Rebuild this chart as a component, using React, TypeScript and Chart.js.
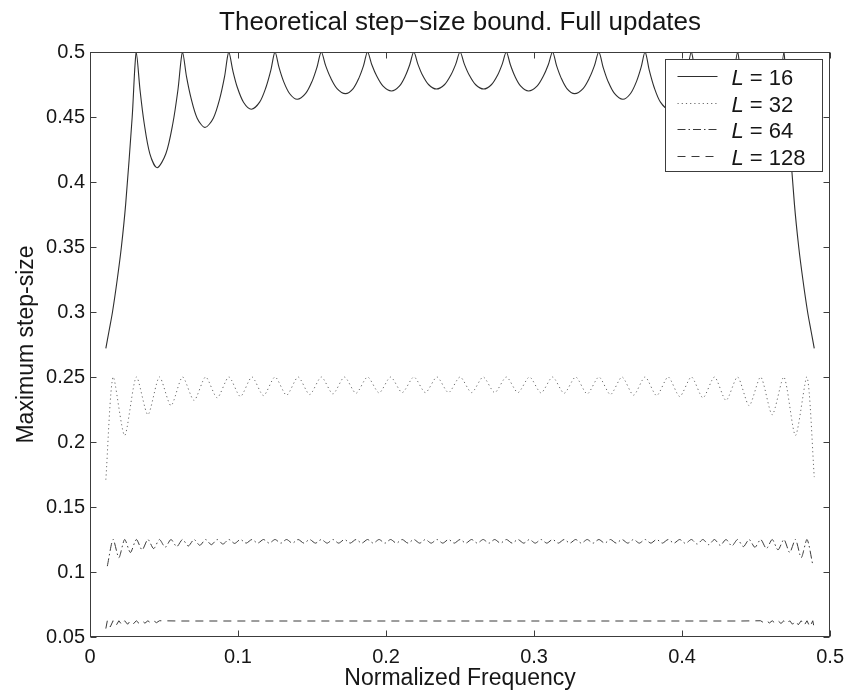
import React, { useEffect, useRef } from 'react';
import { Chart, registerables } from 'chart.js';

Chart.register(...registerables);

const FONT = '"Liberation Sans", Arial, Helvetica, sans-serif';
const INK = '#161616';

const TITLE = 'Theoretical step\u2212size bound. Full updates';
const X_LABEL = 'Normalized Frequency';
const Y_LABEL = 'Maximum step-size';

const X_TICKS = [0, 0.1, 0.2, 0.3, 0.4, 0.5];
const X_TICK_LABELS = ['0', '0.1', '0.2', '0.3', '0.4', '0.5'];
const Y_TICKS = [0.05, 0.1, 0.15, 0.2, 0.25, 0.3, 0.35, 0.4, 0.45, 0.5];
const Y_TICK_LABELS = ['0.05', '0.1', '0.15', '0.2', '0.25', '0.3', '0.35', '0.4', '0.45', '0.5'];

const SERIES_LABELS = ['L = 16', 'L = 32', 'L = 64', 'L = 128'];

// L = 16
const L16_FREQ = [
  0.0107, 0.0128, 0.0152, 0.0184, 0.0212, 0.0241, 0.0285, 0.03125,
  0.0338, 0.0366, 0.0404, 0.0453, 0.0513, 0.0560, 0.0594, 0.0625,
  0.0652, 0.0683, 0.0724, 0.0777, 0.0833, 0.0877, 0.0909, 0.09375,
  0.0965, 0.0995, 0.1037, 0.1090, 0.1146, 0.1189, 0.1221, 0.1250,
  0.1277, 0.1307, 0.1348, 0.1400, 0.1457, 0.1501, 0.1533, 0.15625,
  0.1592, 0.1625, 0.1669, 0.1726, 0.1778, 0.1818, 0.1848, 0.1875,
  0.1904, 0.1937, 0.1980, 0.2037, 0.2090, 0.2130, 0.2160, 0.21875,
  0.2215, 0.2245, 0.2287, 0.2340, 0.2396, 0.2439, 0.2471, 0.2500,
  0.2529, 0.2561, 0.2604, 0.2660, 0.2713, 0.2755, 0.2785, 0.28125,
  0.2840, 0.2870, 0.2910, 0.2963, 0.3020, 0.3063, 0.3096, 0.3125,
  0.3152, 0.3182, 0.3222, 0.3274, 0.3331, 0.3375, 0.3408, 0.34375,
  0.3467, 0.3499, 0.3543, 0.3600, 0.3652, 0.3693, 0.3723, 0.3750,
  0.3779, 0.3811, 0.3854, 0.3910, 0.3963, 0.4005, 0.4035, 0.40625,
  0.4091, 0.4123, 0.4167, 0.4223, 0.4276, 0.4317, 0.4348, 0.4375,
  0.4406, 0.4440, 0.4487, 0.4547, 0.4596, 0.4634, 0.4662, 0.46875,
  0.4715, 0.4759, 0.4788, 0.4816, 0.4848, 0.4872, 0.4893,
];
const L16_STEP = [
  0.272, 0.285, 0.300, 0.325, 0.350, 0.383, 0.450, 0.500,
  0.4708, 0.4452, 0.4219, 0.4110, 0.4219, 0.4452, 0.4708, 0.500,
  0.4810, 0.4643, 0.4491, 0.4420, 0.4491, 0.4643, 0.4810, 0.500,
  0.4856, 0.4729, 0.4614, 0.4560, 0.4614, 0.4729, 0.4856, 0.500,
  0.4881, 0.4776, 0.4681, 0.4636, 0.4681, 0.4776, 0.4881, 0.500,
  0.4895, 0.4803, 0.4719, 0.4680, 0.4719, 0.4803, 0.4895, 0.500,
  0.4902, 0.4815, 0.4737, 0.4700, 0.4737, 0.4815, 0.4902, 0.500,
  0.4907, 0.4825, 0.4750, 0.4715, 0.4750, 0.4825, 0.4907, 0.500,
  0.4907, 0.4825, 0.4750, 0.4715, 0.4750, 0.4825, 0.4907, 0.500,
  0.4902, 0.4815, 0.4737, 0.4700, 0.4737, 0.4815, 0.4902, 0.500,
  0.4895, 0.4803, 0.4719, 0.4680, 0.4719, 0.4803, 0.4895, 0.500,
  0.4881, 0.4776, 0.4681, 0.4636, 0.4681, 0.4776, 0.4881, 0.500,
  0.4856, 0.4729, 0.4614, 0.4560, 0.4614, 0.4729, 0.4856, 0.500,
  0.4810, 0.4643, 0.4491, 0.4420, 0.4491, 0.4643, 0.4810, 0.500,
  0.4708, 0.4452, 0.4219, 0.4110, 0.4219, 0.4452, 0.4708, 0.500,
  0.450, 0.383, 0.350, 0.325, 0.300, 0.285, 0.272,
];

// L = 32
const L32_FREQ = [
  0.0107,
  0.0156, 0.0234, 0.0313, 0.0391, 0.0469, 0.0547, 0.0625, 0.0703,
  0.0781, 0.0859, 0.0938, 0.1016, 0.1094, 0.1172, 0.1250, 0.1328,
  0.1406, 0.1484, 0.1563, 0.1641, 0.1719, 0.1797, 0.1875, 0.1953,
  0.2031, 0.2109, 0.2188, 0.2266, 0.2344, 0.2422, 0.2500, 0.2578,
  0.2656, 0.2734, 0.2813, 0.2891, 0.2969, 0.3047, 0.3125, 0.3203,
  0.3281, 0.3359, 0.3438, 0.3516, 0.3594, 0.3672, 0.3750, 0.3828,
  0.3906, 0.3984, 0.4063, 0.4141, 0.4219, 0.4297, 0.4375, 0.4453,
  0.4531, 0.4609, 0.4688, 0.4766, 0.4844,
  0.4893,
];
const L32_STEP = [
  0.171,
  0.250, 0.205, 0.250, 0.221, 0.250, 0.228, 0.250, 0.232,
  0.250, 0.234, 0.250, 0.235, 0.250, 0.2357, 0.250, 0.236,
  0.250, 0.2365, 0.250, 0.237, 0.250, 0.2375, 0.250, 0.2378,
  0.250, 0.238, 0.250, 0.238, 0.250, 0.238, 0.250, 0.238,
  0.250, 0.238, 0.250, 0.238, 0.250, 0.2378, 0.250, 0.2375,
  0.250, 0.237, 0.250, 0.2365, 0.250, 0.236, 0.250, 0.2357,
  0.250, 0.235, 0.250, 0.234, 0.250, 0.232, 0.250, 0.228,
  0.250, 0.221, 0.250, 0.205, 0.250,
  0.173,
];

// L = 64
const L64_FREQ = [
  0.0117,
  0.0156, 0.0195, 0.0234, 0.0273, 0.0313, 0.0352, 0.0391, 0.0430,
  0.0469, 0.0508, 0.0547, 0.0586, 0.0625, 0.0664, 0.0703, 0.0742,
  0.0781, 0.0820, 0.0859, 0.0898, 0.0938, 0.0977, 0.1016, 0.1055,
  0.1094, 0.1133, 0.1172, 0.1211, 0.1250, 0.1289, 0.1328, 0.1367,
  0.1406, 0.1445, 0.1484, 0.1523, 0.1563, 0.1602, 0.1641, 0.1680,
  0.1719, 0.1758, 0.1797, 0.1836, 0.1875, 0.1914, 0.1953, 0.1992,
  0.2031, 0.2070, 0.2109, 0.2148, 0.2188, 0.2227, 0.2266, 0.2305,
  0.2344, 0.2383, 0.2422, 0.2461, 0.2500, 0.2539, 0.2578, 0.2617,
  0.2656, 0.2695, 0.2734, 0.2773, 0.2813, 0.2852, 0.2891, 0.2930,
  0.2969, 0.3008, 0.3047, 0.3086, 0.3125, 0.3164, 0.3203, 0.3242,
  0.3281, 0.3320, 0.3359, 0.3398, 0.3438, 0.3477, 0.3516, 0.3555,
  0.3594, 0.3633, 0.3672, 0.3711, 0.3750, 0.3789, 0.3828, 0.3867,
  0.3906, 0.3945, 0.3984, 0.4023, 0.4063, 0.4102, 0.4141, 0.4180,
  0.4219, 0.4258, 0.4297, 0.4336, 0.4375, 0.4414, 0.4453, 0.4492,
  0.4531, 0.4570, 0.4609, 0.4648, 0.4688, 0.4727, 0.4766, 0.4805,
  0.4844,
  0.4883,
];
const L64_STEP = [
  0.1045,
  0.125, 0.111, 0.125, 0.115, 0.125, 0.117, 0.125, 0.118,
  0.125, 0.119, 0.125, 0.1195, 0.125, 0.120, 0.125, 0.1205,
  0.125, 0.121, 0.125, 0.1215, 0.125, 0.122, 0.125, 0.1222,
  0.125, 0.1222, 0.125, 0.1222, 0.125, 0.1222, 0.125, 0.1222,
  0.125, 0.1222, 0.125, 0.1222, 0.125, 0.1222, 0.125, 0.1222,
  0.125, 0.1222, 0.125, 0.1222, 0.125, 0.1222, 0.125, 0.1222,
  0.125, 0.1222, 0.125, 0.1222, 0.125, 0.1222, 0.125, 0.1222,
  0.125, 0.1222, 0.125, 0.1222, 0.125, 0.1222, 0.125, 0.1222,
  0.125, 0.1222, 0.125, 0.1222, 0.125, 0.1222, 0.125, 0.1222,
  0.125, 0.1222, 0.125, 0.1222, 0.125, 0.1222, 0.125, 0.1222,
  0.125, 0.1222, 0.125, 0.1222, 0.125, 0.1222, 0.125, 0.1222,
  0.125, 0.1222, 0.125, 0.1222, 0.125, 0.1222, 0.125, 0.1222,
  0.125, 0.1222, 0.125, 0.122, 0.125, 0.1215, 0.125, 0.121,
  0.125, 0.1205, 0.125, 0.120, 0.125, 0.1195, 0.125, 0.119,
  0.125, 0.118, 0.125, 0.117, 0.125, 0.115, 0.125, 0.111,
  0.125,
  0.1055,
];

// L = 128
const L128_FREQ = [
  0.0107, 0.0117, 0.0137, 0.0156, 0.0176, 0.0195, 0.0215, 0.0234,
  0.0254, 0.0273, 0.0293, 0.0313, 0.0332, 0.0352, 0.0371, 0.0391,
  0.0410, 0.0430, 0.0449, 0.0469,
  0.0600, 0.1000, 0.1500, 0.2000, 0.2500, 0.3000, 0.3500, 0.4000, 0.4400,
  0.4531, 0.4551, 0.4570, 0.4590, 0.4609, 0.4629, 0.4648, 0.4668,
  0.4688, 0.4707, 0.4727, 0.4746, 0.4766, 0.4785, 0.4805, 0.4824,
  0.4844, 0.4863, 0.4883, 0.4893,
];
const L128_STEP = [
  0.0565, 0.0625, 0.0578, 0.0625, 0.0588, 0.0625, 0.0594, 0.0625,
  0.0598, 0.0625, 0.0601, 0.0625, 0.0604, 0.0625, 0.0606, 0.0625,
  0.0608, 0.0625, 0.0610, 0.0625,
  0.0623, 0.0623, 0.0623, 0.0623, 0.0623, 0.0623, 0.0623, 0.0623, 0.0623,
  0.0625, 0.0610, 0.0625, 0.0608, 0.0625, 0.0606, 0.0625, 0.0604,
  0.0625, 0.0601, 0.0625, 0.0598, 0.0625, 0.0594, 0.0625, 0.0588,
  0.0625, 0.0578, 0.0625, 0.0565,
];

const pairs = (xs: number[], ys: number[]) => xs.map((x, i) => ({ x, y: ys[i] }));

const frameLegendPlugin = {
  id: 'frameLegend',
  afterDatasetsDraw(chart: any) {
    const { ctx, chartArea, scales } = chart;
    const L = Math.round(chartArea.left) + 0.5;
    const R = Math.round(chartArea.right) - 0.5;
    const T = Math.round(chartArea.top) + 0.5;
    const B = Math.round(chartArea.bottom) - 0.5;
    ctx.save();
    ctx.strokeStyle = '#3c3c3c';
    ctx.lineWidth = 1;
    ctx.setLineDash([]);
    ctx.strokeRect(L, T, R - L, B - T);
    const tk = 6;
    ctx.beginPath();
    X_TICKS.forEach((v) => {
      const px = Math.round(scales.x.getPixelForValue(v)) + 0.5;
      ctx.moveTo(px, B); ctx.lineTo(px, B - tk);
      ctx.moveTo(px, T); ctx.lineTo(px, T + tk);
    });
    Y_TICKS.forEach((v) => {
      const py = Math.round(scales.y.getPixelForValue(v)) + 0.5;
      ctx.moveTo(L, py); ctx.lineTo(L + tk, py);
      ctx.moveTo(R, py); ctx.lineTo(R - tk, py);
    });
    ctx.stroke();

    // legend box
    const bw = 157, bh = 112;
    const bx = Math.round(chartArea.right) - 8 - bw + 0.5;
    const by = Math.round(chartArea.top) + 7 + 0.5;
    ctx.fillStyle = '#ffffff';
    ctx.fillRect(bx, by, bw, bh);
    ctx.strokeStyle = '#3c3c3c';
    ctx.strokeRect(bx, by, bw, bh);
    chart.data.datasets.forEach((ds: any, i: number) => {
      const cy = Math.round(by + 16.5 + i * 26.7) + 0.5;
      ctx.save();
      ctx.strokeStyle = ds.borderColor;
      ctx.lineWidth = ds.borderWidth;
      ctx.setLineDash(ds.borderDash || []);
      ctx.beginPath();
      ctx.moveTo(bx + 12, cy);
      ctx.lineTo(bx + 52, cy);
      ctx.stroke();
      ctx.restore();
      const label: string = ds.label;
      const tx = bx + 66;
      const ty = cy + 8;
      ctx.fillStyle = INK;
      ctx.textBaseline = 'alphabetic';
      ctx.textAlign = 'left';
      ctx.font = `italic 22px ${FONT}`;
      const first = label.slice(0, 1);
      ctx.fillText(first, tx, ty);
      const w1 = ctx.measureText(first).width;
      ctx.font = `22px ${FONT}`;
      ctx.fillText(label.slice(1), tx + w1, ty);
    });
    ctx.restore();
  },
};

export default function App() {
  const canvasRef = useRef<HTMLCanvasElement | null>(null);

  useEffect(() => {
    const canvas = canvasRef.current;
    if (!canvas) return;
    const common = { pointRadius: 0, pointHoverRadius: 0, tension: 0, fill: false, borderWidth: 1 };
    const chart = new Chart(canvas, {
      type: 'line',
      data: {
        datasets: [
          { ...common, label: SERIES_LABELS[0], data: pairs(L16_FREQ, L16_STEP), borderColor: '#2e2e2e', borderDash: [], borderWidth: 1.1, tension: 0.3 },
          { ...common, label: SERIES_LABELS[1], data: pairs(L32_FREQ, L32_STEP), borderColor: '#6a6a6a', borderDash: [1.2, 3], tension: 0.25 },
          { ...common, label: SERIES_LABELS[2], data: pairs(L64_FREQ, L64_STEP), borderColor: '#3a3a3a', borderDash: [8, 3, 1.5, 3], tension: 0.25 },
          { ...common, label: SERIES_LABELS[3], data: pairs(L128_FREQ, L128_STEP), borderColor: '#3a3a3a', borderDash: [8, 6] },
        ] as any,
      },
      options: {
        responsive: false,
        animation: false,
        devicePixelRatio: 1,
        events: [],
        layout: { padding: { left: 0, right: 17, top: 0, bottom: 0 } },
        plugins: {
          legend: { display: false },
          tooltip: { enabled: false },
          title: {
            display: true,
            text: TITLE,
            fullSize: false,
            color: INK,
            font: { family: FONT, size: 26, weight: 'normal' as any },
            padding: { top: 7, bottom: 13.8 },
          },
        },
        scales: {
          x: {
            type: 'linear',
            min: 0,
            max: 0.5,
            afterBuildTicks: (s: any) => { s.ticks = X_TICKS.map((v) => ({ value: v })); },
            afterFit: (s: any) => { s.height = 58; },
            ticks: {
              autoSkip: false,
              maxRotation: 0,
              padding: 8,
              color: INK,
              font: { family: FONT, size: 20 },
              callback: (_v: any, i: number) => X_TICK_LABELS[i],
            },
            grid: { display: false, drawTicks: false, tickLength: 0 },
            border: { display: false },
            title: {
              display: true,
              text: X_LABEL,
              color: INK,
              font: { family: FONT, size: 23 },
              padding: { top: 0, bottom: 2.5 },
            },
          },
          y: {
            type: 'linear',
            min: 0.05,
            max: 0.5,
            afterBuildTicks: (s: any) => { s.ticks = Y_TICKS.map((v) => ({ value: v })); },
            afterFit: (s: any) => { s.width = 90; },
            ticks: {
              autoSkip: false,
              padding: 5,
              color: INK,
              font: { family: FONT, size: 20 },
              callback: (_v: any, i: number) => Y_TICK_LABELS[i],
            },
            grid: { display: false, drawTicks: false, tickLength: 0 },
            border: { display: false },
            title: {
              display: true,
              text: Y_LABEL,
              color: INK,
              font: { family: FONT, size: 23 },
              padding: { top: 13, bottom: 0 },
            },
          },
        },
      } as any,
      plugins: [frameLegendPlugin],
    });
    return () => chart.destroy();
  }, []);

  return (
    <div style={{ position: 'absolute', left: 0, top: 0, width: 852, height: 695, background: '#ffffff' }}>
      <canvas ref={canvasRef} width={852} height={695} style={{ display: 'block', width: 852, height: 695 }} />
    </div>
  );
}
